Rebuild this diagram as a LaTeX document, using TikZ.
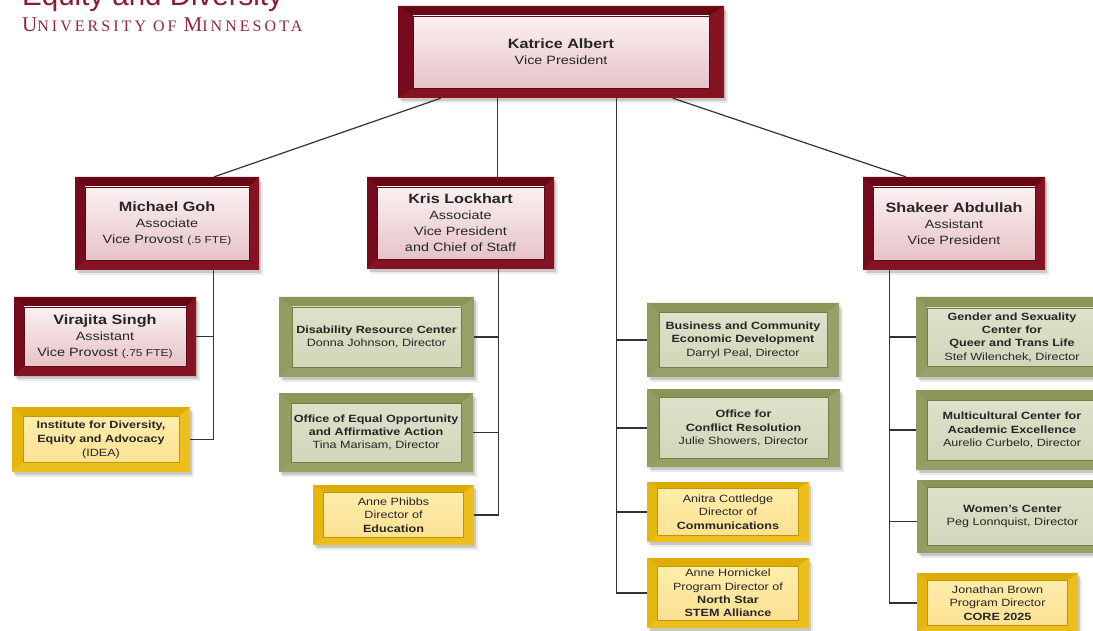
\documentclass[tikz,border=0pt]{standalone}
\usepackage{fontspec}
\setmainfont[FakeStretch=1.2]{Liberation Sans}
\newfontfamily\headfont{Liberation Sans}
\newfontfamily\univfont[LetterSpace=19]{Liberation Serif}
\usetikzlibrary{calc}
\definecolor{mD}{HTML}{680814}
\definecolor{mM}{HTML}{760C1B}
\definecolor{mL}{HTML}{851321}
\definecolor{pkT}{HTML}{FBF0F1}
\definecolor{pkB}{HTML}{E6C3C7}
\definecolor{mLine}{HTML}{5C0A15}
\definecolor{gD}{HTML}{8A9558}
\definecolor{gM}{HTML}{929D62}
\definecolor{gL}{HTML}{97A167}
\definecolor{gnT}{HTML}{DCE1CA}
\definecolor{gnB}{HTML}{D1D7BA}
\definecolor{gLine}{HTML}{737D45}
\definecolor{yD}{HTML}{DDAD05}
\definecolor{yM}{HTML}{E5B60C}
\definecolor{yL}{HTML}{ECBF1C}
\definecolor{ywT}{HTML}{FEEDAA}
\definecolor{ywB}{HTML}{FBE193}
\definecolor{yLine}{HTML}{C39600}
\definecolor{hdr}{HTML}{8A1C2E}
\definecolor{univ}{HTML}{8E2A3B}
\def\boxinx{10pt}
\def\boxiny{10pt}
\newcommand\orgframe[7]{%
  \coordinate (o1) at (path picture bounding box.north west);
  \coordinate (o2) at (path picture bounding box.north east);
  \coordinate (o3) at (path picture bounding box.south east);
  \coordinate (o4) at (path picture bounding box.south west);
  \coordinate (i1) at ([xshift=\boxinx,yshift=-\boxiny]o1);
  \coordinate (i2) at ([xshift=-\boxinx,yshift=-\boxiny]o2);
  \coordinate (i3) at ([xshift=-\boxinx,yshift=\boxiny]o3);
  \coordinate (i4) at ([xshift=\boxinx,yshift=\boxiny]o4);
  \fill[#1] (o1)--(o2)--(i2)--(i1)--cycle;
  \fill[#2] (o1)--(o4)--(i4)--(i1)--cycle;
  \fill[#3] (o2)--(o3)--(i3)--(i2)--cycle;
  \fill[#4] (o4)--(o3)--(i3)--(i4)--cycle;
  \shade[top color=#5,bottom color=#6] (i1) rectangle (i3);
  \draw[#7,line width=0.7pt] (i1) rectangle (i3);
}
\newcommand\nm[1]{{\fontsize{13.5}{16}\selectfont\bfseries #1}}
\newcommand\sm[1]{{\fontsize{10}{16}\selectfont #1}}
\begin{document}
\begin{tikzpicture}[x=1pt,y=-1pt,
  inx/.code={\def\boxinx{#1}},
  iny/.code={\def\boxiny{#1}},
  sz/.style 2 args={minimum width=#1pt, minimum height=#2pt},
  shadowed/.style={
    preaction={fill=black, fill opacity=0.14, path picture={}, transform canvas={xshift=2pt,yshift=-3pt}},
    preaction={fill=black, fill opacity=0.08, path picture={}, transform canvas={xshift=3.5pt,yshift=-5pt}}},
  orgbase/.style={shape=rectangle, inner sep=0pt, shadowed, align=center},
  mbox/.style={orgbase, fill=mM, text=black!85, font=\fontsize{12}{16}\selectfont,
    inx=10pt, iny=10pt, path picture={\orgframe{mD}{mM}{mL}{mL}{pkT}{pkB}{mLine}}},
  gbox/.style={orgbase, fill=gM, text=black!85, font=\fontsize{10.5}{13.3}\selectfont,
    inx=12pt, iny=10pt, path picture={\orgframe{gD}{gM}{gL}{gL}{gnT}{gnB}{gLine}}},
  ybox/.style={orgbase, fill=yM, text=black!85, font=\fontsize{10.5}{13.3}\selectfont,
    inx=10.5pt, iny=7.5pt, path picture={\orgframe{yD}{yM}{yL}{yL}{ywT}{ywB}{yLine}}},
  conn/.style={draw=black!80, line width=1.2pt}]
\useasboundingbox (0,0) rectangle (1093,631);
\fill[white] (0,0) rectangle (1093,631);

% header
\node[anchor=base west, inner sep=0pt, text=hdr, font=\headfont\fontsize{29.5}{30}\selectfont] (title) at (22,6) {Equity and Diversity};
\node[anchor=base west, inner sep=0pt, text=univ] (univ) at (22,32)
  {\univfont{\fontsize{21}{21}\selectfont U}{\fontsize{16}{16}\selectfont NIVERSITY OF }{\fontsize{21}{21}\selectfont M}{\fontsize{16}{16}\selectfont INNESOTA}};

% maroon boxes
\node[mbox, sz={326}{92}, inx=15pt] (kat) at (561,52) {\nm{Katrice Albert}\\Vice President};
\node[mbox, sz={184}{93}] (goh) at (167,223.5) {\nm{Michael Goh}\\Associate\\Vice Provost \sm{(.5 FTE)}};
\node[mbox, sz={187}{92}] (kris) at (460.5,223) {\nm{Kris Lockhart}\\Associate\\Vice President\\and Chief of Staff};
\node[mbox, sz={182}{93}] (shak) at (954,223.5) {\nm{Shakeer Abdullah}\\Assistant\\Vice President};
\node[mbox, sz={182}{79}] (vir) at (105,336.5) {\nm{Virajita Singh}\\Assistant\\Vice Provost \sm{(.75 FTE)}};

% left column
\node[ybox, sz={178}{65}, inx=11pt, iny=9.5pt, font=\fontsize{10.5}{14}\selectfont] (idea) at (101,439.5)
  {\textbf{Institute for Diversity,}\\\textbf{Equity and Advocacy}\\(IDEA)};

% Kris column
\node[gbox, sz={195}{80}, inx=13pt] (drc) at (376.5,337) {\textbf{Disability Resource Center}\\Donna Johnson, Director};
\node[gbox, sz={194}{79}] (eeo) at (376,432.5) {\textbf{Office of Equal Opportunity}\\\textbf{and Affirmative Action}\\Tina Marisam, Director};
\node[ybox, sz={161}{60}] (phibbs) at (393.5,515) {Anne Phibbs\\Director of\\\textbf{Education}};

% centre column
\node[gbox, sz={192}{74}, iny=9.5pt] (bced) at (743,340) {\textbf{Business and Community}\\\textbf{Economic Development}\\Darryl Peal, Director};
\node[gbox, sz={193}{78}, iny=8.5pt] (ocr) at (743.5,428) {\textbf{Office for}\\\textbf{Conflict Resolution}\\Julie Showers, Director};
\node[ybox, sz={162}{60}, iny=6.5pt] (anitra) at (728,512) {Anitra Cottledge\\Director of\\\textbf{Communications}};
\node[ybox, sz={162}{70}, iny=8pt] (horn) at (728,593) {Anne Hornickel\\Program Director of\\\textbf{North Star}\\\textbf{STEM Alliance}};

% right column
\node[gbox, sz={192}{80}, inx=11pt, iny=11pt] (gender) at (1012,337) {\textbf{Gender and Sexuality}\\\textbf{Center for}\\\textbf{Queer and Trans Life}\\Stef Wilenchek, Director};
\node[gbox, sz={192}{80}, inx=11pt] (multi) at (1012,430) {\textbf{Multicultural Center for}\\\textbf{Academic Excellence}\\Aurelio Curbelo, Director};
\node[gbox, sz={191}{73}, inx=10pt, iny=7.5pt] (women) at (1012.5,516.5) {\textbf{Women’s Center}\\Peg Lonnquist, Director};
\node[ybox, sz={161}{60}] (jon) at (997.5,603) {Jonathan Brown\\Program Director\\\textbf{CORE 2025}};

% connectors from the Vice President
\draw[conn] ([xshift=43pt]kat.south west) -- ([xshift=-45pt]goh.north east);
\draw[conn] ([xshift=100pt]kat.south west) coordinate (kt2) -- (kt2 |- kris.north);
\draw[conn] ([xshift=275pt]kat.south west) -- ([xshift=43pt]shak.north west);
\draw[conn] ([xshift=219pt]kat.south west) coordinate (ct) -- (ct |- horn.west) -- (horn.west);
\draw[conn] (ct |- bced.west) -- (bced.west);
\draw[conn] (ct |- ocr.west) -- (ocr.west);
\draw[conn] (ct |- anitra.west) -- (anitra.west);

% Michael Goh
\draw[conn] ([xshift=139pt]goh.south west) coordinate (gt) -- (gt |- idea.east) -- (idea.east);
\draw[conn] (gt |- vir.east) -- (vir.east);

% Kris Lockhart
\draw[conn] ([xshift=132pt]kris.south west) coordinate (kt) -- (kt |- phibbs.east) -- (phibbs.east);
\draw[conn] (kt |- drc.east) -- (drc.east);
\draw[conn] (kt |- eeo.east) -- (eeo.east);

% Shakeer Abdullah
\draw[conn] ([xshift=27pt]shak.south west) coordinate (st) -- (st |- jon.west) -- (jon.west);
\draw[conn] (st |- gender.west) -- (gender.west);
\draw[conn] (st |- multi.west) -- (multi.west);
\draw[conn] ([yshift=-5pt]women.west) coordinate (wb) -- (wb -| st);
\end{tikzpicture}
\end{document}
